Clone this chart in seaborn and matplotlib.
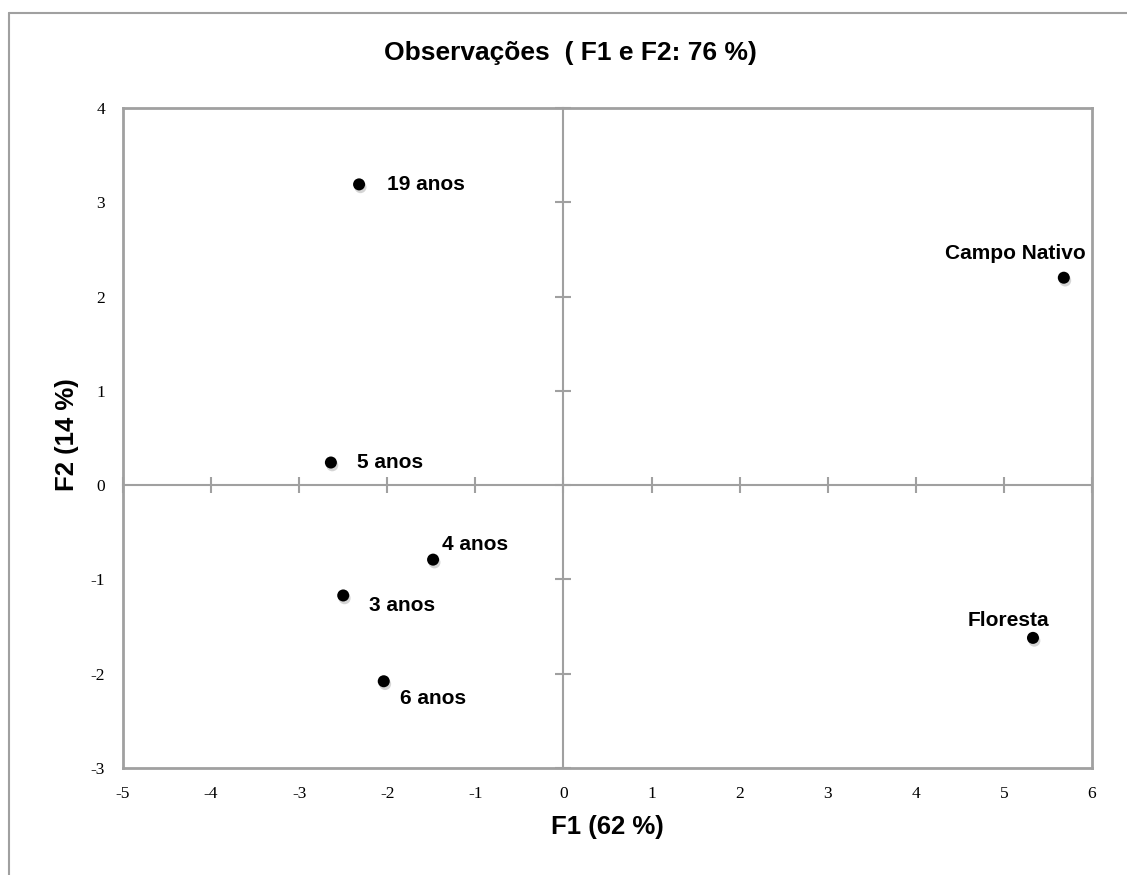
import pandas as pd
import matplotlib.pyplot as plt
import matplotlib.patheffects as pe
from matplotlib.lines import Line2D
import seaborn as sns

names = ['19 anos', 'Campo Nativo', '5 anos', '4 anos', '3 anos', '6 anos', 'Floresta']
f1 = [-2.32, 5.68, -2.64, -1.48, -2.50, -2.04, 5.33]
f2 = [3.19, 2.20, 0.24, -0.79, -1.17, -2.08, -1.62]

x_ticks = list(range(-5, 7))
y_ticks = list(range(-3, 5))

title = 'Observações  ( F1 e F2: 76 %)'
x_label = 'F1 (62 %)'
y_label = 'F2 (14 %)'

# label placement (offset in points, horizontal alignment)
label_offsets = {
    '19 anos': ((20.4, 0), 'left'),
    'Campo Nativo': ((-35, 17.7), 'center'),
    '5 anos': ((18.7, 0), 'left'),
    '4 anos': ((6.5, 10.6), 'left'),
    '3 anos': ((18.2, -7), 'left'),
    '6 anos': ((11.7, -12.5), 'left'),
    'Floresta': ((-17.6, 12.5), 'center'),
}

df = pd.DataFrame({'obs': names, 'F1': f1, 'F2': f2})

sns.set_style('white')
plt.rcParams['font.family'] = ['Liberation Sans', 'DejaVu Sans']
plt.rcParams['axes.unicode_minus'] = False
plt.rcParams['text.color'] = 'black'
plt.rcParams['axes.labelcolor'] = 'black'
plt.rcParams['xtick.color'] = 'black'
plt.rcParams['ytick.color'] = 'black'

grey = '#a0a0a0'

fig = plt.figure(figsize=(11.27, 8.75), dpi=100)
ax = fig.add_axes([123 / 1127, 1 - 768 / 875, 969 / 1127, 660 / 875])

sns.scatterplot(data=df, x='F1', y='F2', color='black', s=75,
                edgecolor='none', ax=ax, zorder=5)
ax.collections[0].set_path_effects([
    pe.SimplePatchShadow(offset=(1, -2), shadow_rgbFace='#888888', alpha=0.35),
    pe.Normal()])

for _, row in df.iterrows():
    off, ha = label_offsets[row['obs']]
    ax.annotate(row['obs'], (row['F1'], row['F2']), xytext=off,
                textcoords='offset points', ha=ha, va='center',
                fontsize=15, fontweight='bold', color='black')

ax.set_xlim(x_ticks[0], x_ticks[-1])
ax.set_ylim(y_ticks[0], y_ticks[-1])
ax.set_xticks(x_ticks)
ax.set_yticks(y_ticks)
ax.tick_params(length=0, pad=13, labelsize=12.5, labelcolor='black')
for lbl in ax.get_xticklabels() + ax.get_yticklabels():
    lbl.set_fontfamily('Liberation Serif')

for sp in ax.spines.values():
    sp.set_visible(True)
    sp.set_color(grey)
    sp.set_linewidth(2)

# axes through the origin with crossing ticks
sx = ax.secondary_xaxis(0, transform=ax.transData)
sx.set_xticks(x_ticks)
sx.tick_params(direction='inout', length=11, width=1.5, color=grey,
               labelbottom=False)
sx.spines['bottom'].set_color(grey)
sx.spines['bottom'].set_linewidth(1.5)

sy = ax.secondary_yaxis(0, transform=ax.transData)
sy.set_yticks(y_ticks)
sy.tick_params(direction='inout', length=11, width=1.5, color=grey,
               labelleft=False)
sy.spines['left'].set_color(grey)
sy.spines['left'].set_linewidth(1.5)

ax.set_xlabel(x_label, fontsize=18.5, fontweight='bold', va='center')
ax.xaxis.set_label_coords(0.5, (768 - 826.7) / 660)
ax.set_ylabel(y_label, fontsize=18.5, fontweight='bold', va='center')
ax.yaxis.set_label_coords((67 - 123) / 969, (768 - 435) / 660)

fig.text(570 / 1127, 1 - 53 / 875, title, ha='center', va='center',
         fontsize=19, fontweight='bold', color='black')

# outer chart frame
fig.add_artist(Line2D([9 / 1127, 1], [1 - 12.5 / 875] * 2, color=grey, lw=1.5))
fig.add_artist(Line2D([9 / 1127] * 2, [0, 1 - 12.5 / 875], color=grey, lw=1.5))

fig.savefig('out.png', dpi=100)
